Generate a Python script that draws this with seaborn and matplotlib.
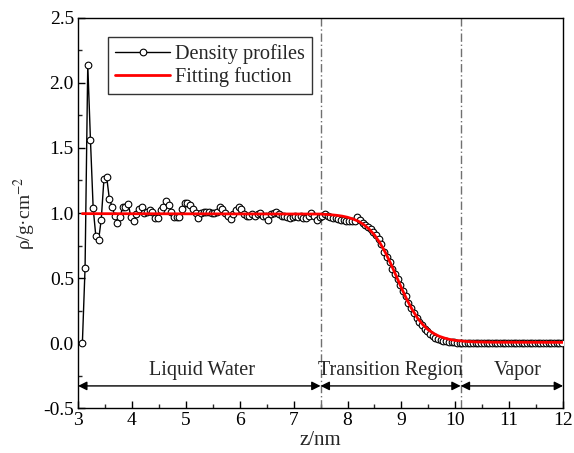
import matplotlib
matplotlib.use("Agg")
import matplotlib.pyplot as plt
import seaborn as sns
import pandas as pd
from matplotlib.ticker import MultipleLocator, FormatStrFormatter

# ---------------- data ----------------
z_nm = [
    3.08, 3.13, 3.18, 3.23, 3.28, 3.33, 3.38, 3.43, 3.48, 3.53,
    3.58, 3.63, 3.68, 3.73, 3.78, 3.83, 3.88, 3.93, 3.98, 4.03,
    4.08, 4.13, 4.18, 4.23, 4.28, 4.33, 4.38, 4.43, 4.48, 4.53,
    4.58, 4.63, 4.68, 4.73, 4.78, 4.83, 4.88, 4.93, 4.98, 5.03,
    5.08, 5.13, 5.18, 5.23, 5.28, 5.33, 5.38, 5.43, 5.48, 5.53,
    5.58, 5.63, 5.68, 5.73, 5.78, 5.83, 5.88, 5.93, 5.98, 6.03,
    6.08, 6.13, 6.18, 6.23, 6.28, 6.33, 6.38, 6.43, 6.48, 6.53,
    6.58, 6.63, 6.68, 6.73, 6.78, 6.83, 6.88, 6.93, 6.98, 7.03,
    7.08, 7.13, 7.18, 7.23, 7.28, 7.33, 7.38, 7.43, 7.48, 7.53,
    7.58, 7.63, 7.68, 7.73, 7.78, 7.83, 7.88, 7.93, 7.98, 8.03,
    8.08, 8.13, 8.18, 8.23, 8.28, 8.33, 8.38, 8.43, 8.48, 8.53,
    8.58, 8.63, 8.68, 8.73, 8.78, 8.83, 8.88, 8.93, 8.98, 9.03,
    9.08, 9.13, 9.18, 9.23, 9.28, 9.33, 9.38, 9.43, 9.48, 9.53,
    9.58, 9.63, 9.68, 9.73, 9.78, 9.83, 9.88, 9.93, 9.98, 10.03,
    10.08, 10.13, 10.18, 10.23, 10.28, 10.33, 10.38, 10.43, 10.48, 10.53,
    10.58, 10.63, 10.68, 10.73, 10.78, 10.83, 10.88, 10.93, 10.98, 11.03,
    11.08, 11.13, 11.18, 11.23, 11.28, 11.33, 11.38, 11.43, 11.48, 11.53,
    11.58, 11.63, 11.68, 11.73, 11.78, 11.83, 11.88, 11.93, 11.98,
]
density = [
    0.00, 0.58, 2.14, 1.56, 1.04, 0.82, 0.79, 0.95, 1.26, 1.28,
    1.11, 1.05, 0.98, 0.92, 0.97, 1.05, 1.05, 1.07, 0.97, 0.94,
    0.99, 1.03, 1.05, 1.00, 1.01, 1.02, 1.01, 0.96, 0.96, 1.02,
    1.05, 1.09, 1.06, 1.01, 0.97, 0.97, 0.97, 1.03, 1.08, 1.08,
    1.06, 1.03, 1.00, 0.96, 1.00, 1.01, 1.01, 1.01, 1.00, 1.00,
    1.01, 1.05, 1.03, 1.00, 0.975, 0.955, 0.99, 1.02, 1.05, 1.03,
    0.99, 0.98, 0.98, 0.99, 0.98, 0.99, 1.00, 0.98, 0.975, 0.95,
    0.99, 1.00, 1.01, 0.99, 0.98, 0.975, 0.97, 0.96, 0.97, 0.975,
    0.97, 0.975, 0.96, 0.965, 0.98, 1.00, 0.98, 0.95, 0.97, 0.98,
    0.99, 0.98, 0.97, 0.965, 0.96, 0.955, 0.95, 0.945, 0.94, 0.94,
    0.935, 0.94, 0.97, 0.95, 0.925, 0.91, 0.895, 0.875, 0.855, 0.83,
    0.80, 0.76, 0.70, 0.66, 0.62, 0.57, 0.53, 0.49, 0.45, 0.40,
    0.36, 0.31, 0.27, 0.23, 0.195, 0.165, 0.135, 0.11, 0.09, 0.07,
    0.055, 0.042, 0.032, 0.024, 0.018, 0.013, 0.009, 0.006, 0.004, 0.002,
    0.001, 0.000, 0.000, 0.000, 0.000, 0.000, 0.000, 0.000, 0.000, 0.000,
    0.000, 0.000, 0.000, 0.000, 0.000, 0.000, 0.000, 0.000, 0.000, 0.000,
    0.000, 0.000, 0.000, 0.000, 0.000, 0.000, 0.000, 0.000, 0.000, 0.000,
    0.000, 0.000, 0.000, 0.000, 0.000, 0.000, 0.000, 0.000, 0.000,
]
fit_z = [3.08, 7.5, 7.6, 7.7, 7.8, 7.9, 8.0, 8.1, 8.2, 8.3, 8.4, 8.5,
         8.6, 8.7, 8.8, 8.9, 9.0, 9.1, 9.2, 9.3, 9.4, 9.5, 9.6, 9.7,
         9.8, 9.9, 10.0, 10.2, 10.4, 10.7, 12.0]
fit_rho = [0.995, 0.992, 0.989, 0.986, 0.982, 0.976, 0.967, 0.954, 0.937,
           0.911, 0.877, 0.831, 0.771, 0.698, 0.612, 0.519, 0.424, 0.335,
           0.257, 0.191, 0.140, 0.101, 0.073, 0.052, 0.038, 0.027, 0.020,
           0.012, 0.008, 0.006, 0.005]

region_bounds = [3.0, 7.5, 10.1, 12.0]
region_labels = ["Liquid Water", "Transition Region", "Vapor"]
region_label_x = [5.3, 8.8, 11.15]

x_ticks = [3, 4, 5, 6, 7, 8, 9, 10, 11, 12]
y_ticks = [-0.5, 0.0, 0.5, 1.0, 1.5, 2.0, 2.5]

# ---------------- style ----------------
sns.set_theme(style="ticks")
plt.rcParams["font.family"] = ["Liberation Serif", "DejaVu Serif"]
plt.rcParams["mathtext.fontset"] = "stix"

fig = plt.figure(figsize=(5.74, 4.53), dpi=100)
ax = fig.add_axes([0.136, 0.0993, 0.845, 0.861])

df = pd.DataFrame({"z": z_nm, "rho": density})
fdf = pd.DataFrame({"z": fit_z, "rho": fit_rho})

sns.lineplot(data=df, x="z", y="rho", ax=ax, color="black", lw=1.0,
             marker="o", markersize=4.8, markerfacecolor="white",
             markeredgecolor="black", markeredgewidth=0.8,
             label="Density profiles", sort=False, zorder=3)
sns.lineplot(data=fdf, x="z", y="rho", ax=ax, color="#ff0000", lw=2.0,
             label="Fitting fuction", sort=False, zorder=4)

for b in region_bounds[1:3]:
    ax.axvline(b, color="#707070", lw=1.0, ls=(0, (6, 2, 1, 2)), zorder=2)

for i, lab in enumerate(region_labels):
    ax.annotate("", xy=(region_bounds[i], -0.33), xytext=(region_bounds[i + 1], -0.33),
                arrowprops=dict(arrowstyle="<|-|>", color="black", lw=1.0,
                                mutation_scale=13, shrinkA=0, shrinkB=0), zorder=5)
    ax.text(region_label_x[i], -0.215, lab, ha="center", va="center", fontsize=14.5)

ax.set_xlim(3, 12)
ax.set_ylim(-0.5, 2.5)
ax.set_xticks(x_ticks)
ax.set_yticks(y_ticks)
ax.yaxis.set_major_formatter(FormatStrFormatter("%.1f"))
ax.xaxis.set_minor_locator(MultipleLocator(0.5))
ax.yaxis.set_minor_locator(MultipleLocator(0.25))
ax.tick_params(axis="both", which="major", direction="in", length=5, width=1,
               labelsize=14, colors="black", pad=3)
ax.tick_params(axis="both", which="minor", direction="in", length=3, width=1)
for s in ax.spines.values():
    s.set_color("black")
    s.set_linewidth(1.0)

ax.set_xlabel("z/nm", fontsize=15, labelpad=1)
ax.set_ylabel(r"ρ/g·cm$^{-2}$", fontsize=14, labelpad=4)

leg = ax.legend(loc="upper left", bbox_to_anchor=(0.062, 0.951), borderaxespad=0,
                frameon=True, fancybox=False, edgecolor="black", fontsize=14.6,
                handlelength=2.7, borderpad=0.35, labelspacing=0.15,
                handletextpad=0.25)
leg.get_frame().set_linewidth(1.0)

fig.savefig("out.png", dpi=100)
